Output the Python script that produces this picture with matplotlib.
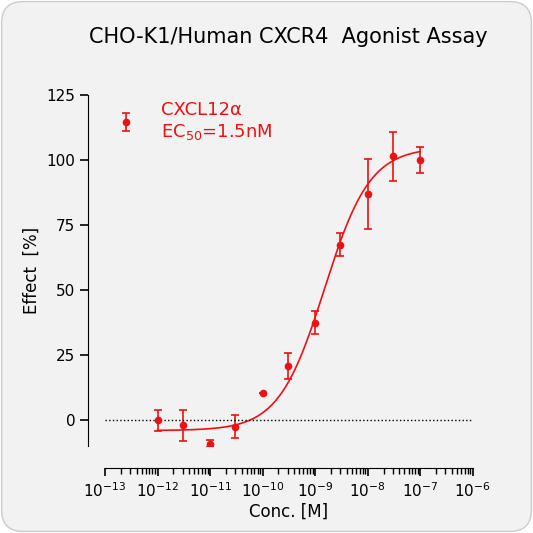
import numpy as np
import matplotlib
matplotlib.use("Agg")
import matplotlib.pyplot as plt
from matplotlib.patches import FancyBboxPatch

conc = [1e-12, 3e-12, 1e-11, 3e-11, 1e-10, 3e-10, 1e-9, 3e-9, 1e-8, 3e-8, 1e-7]
effect = [0, -2, -9, -2.5, 10.5, 21, 37.5, 67.5, 87, 101.5, 100]
err = [4, 6, 1.5, 4.5, 0, 5, 4.5, 4.5, 13.5, 9.5, 5]
bottom, top, ec50, hill = -4, 105, 1.5e-9, 1.0

fig = plt.figure(figsize=(5.33, 5.33), dpi=100)
fig.patch.set_facecolor("white")
bg = FancyBboxPatch((0.003, 0.003), 0.994, 0.994, boxstyle="round,pad=0,rounding_size=0.04",
                    transform=fig.transFigure, facecolor="#f2f2f2", edgecolor="#cccccc", lw=1, zorder=-10)
fig.patches.append(bg)

ax = fig.add_axes([0.197, 0.163, 0.69, 0.658])
ax.set_facecolor("none")
ax.set_zorder(5)
red = "#ee1111"
xs = np.logspace(-12, -7, 300)
ys = bottom + (top - bottom) / (1 + (ec50 / xs) ** hill)
ax.plot(xs, ys, color=red, lw=1.2)
ax.errorbar(conc, effect, yerr=err, fmt="o", color=red, ms=4.5, capsize=3, elinewidth=1.2, capthick=1.2,
            label="CXCL12α\nEC$_{50}$=1.5nM")
ax.axhline(0, color="black", ls=":", lw=1)
ax.set_xscale("log")
ax.set_xlim(1e-13, 1e-6)
ax.set_ylim(-10, 125)
ax.set_yticks([0, 25, 50, 75, 100, 125])
ax.set_xticks([10.0**k for k in range(-13, -5)])
ax.xaxis.set_minor_locator(matplotlib.ticker.LogLocator(base=10, subs=np.arange(2, 10), numticks=100))
ax.xaxis.set_minor_formatter(matplotlib.ticker.NullFormatter())
for s in ["top", "right"]:
    ax.spines[s].set_visible(False)
ax.spines["bottom"].set_position(("outward", 16))
ax.spines["left"].set_position(("outward", 12))
ax.tick_params(labelsize=11, width=1.2, length=6)
ax.tick_params(which="minor", length=4, width=1)
ax.set_xlabel("Conc. [M]", fontsize=12, labelpad=2)
ax.set_ylabel("Effect  [%]", fontsize=12)
leg = ax.legend(loc="upper left", bbox_to_anchor=(-0.04, 1.03), frameon=False, fontsize=13,
                labelcolor=red, handlelength=2.2)
fig.text(0.54, 0.92, "CHO-K1/Human CXCR4  Agonist Assay", ha="center", fontsize=15)
fig.savefig("out.png", dpi=100)
